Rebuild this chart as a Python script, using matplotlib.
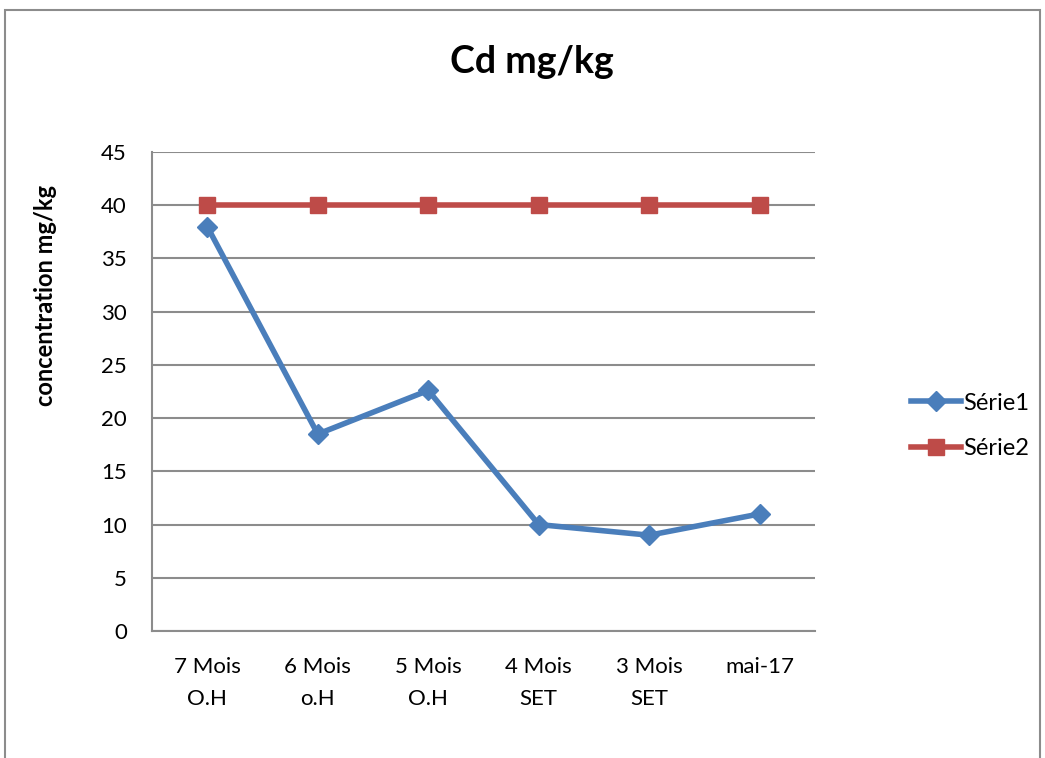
import matplotlib.pyplot as plt
from matplotlib.patches import Rectangle

# chart data
categories = ["7 Mois\nO.H", "6 Mois\no.H", "5 Mois\nO.H", "4 Mois\nSET", "3 Mois\nSET", "mai-17"]
serie1 = [38, 18.5, 22.6, 10, 9, 11]
serie2 = [40, 40, 40, 40, 40, 40]
yticks = [0, 5, 10, 15, 20, 25, 30, 35, 40, 45]

plt.rcParams['font.family'] = ['Lato', 'DejaVu Sans']

fig = plt.figure(figsize=(10.45, 7.58), dpi=100)
ax = fig.add_axes([152/1045, 1 - 631/758, (815 - 152)/1045, (631 - 152)/758])

x = list(range(len(categories)))
ax.plot(x, serie1, color='#4a7ebb', lw=4, marker='D', ms=10, label='Série1', zorder=3)
ax.plot(x, serie2, color='#be4b48', lw=4, marker='s', ms=12, label='Série2', zorder=3)

ax.set_xlim(-0.5, len(categories) - 0.5)
ax.set_ylim(0, 45)
ax.set_yticks(yticks)
ax.set_xticks(x)
ax.set_xticklabels(categories, fontsize=16, linespacing=1.7)
ax.tick_params(axis='y', labelsize=16, length=0, pad=18)
ax.tick_params(axis='x', length=0, pad=19)
ax.yaxis.grid(True, color='#8c8c8c', lw=1.5)
ax.set_axisbelow(True)
for s in ['top', 'right']:
    ax.spines[s].set_visible(False)
for s in ['left', 'bottom']:
    ax.spines[s].set_color('#8c8c8c')
    ax.spines[s].set_linewidth(1.5)

fig.text(532/1045, 1 - 62/758, "Cd mg/kg", fontsize=27, fontweight='bold', ha='center', va='center')
fig.text(46/1045, 1 - 295/758, "concentration mg/kg", fontsize=17, fontweight='bold',
         rotation=90, ha='center', va='center')

fig.legend(loc='center left', bbox_to_anchor=(890/1045, 1 - 426/758), frameon=False,
           fontsize=17, handlelength=2.1, handletextpad=0.1, labelspacing=1.05)

# outer chart border
fig.patches.append(Rectangle((5/1045, -0.1), (1040 - 5)/1045, 1.1 - 10/758,
                             transform=fig.transFigure, fill=False, ec='#8c8c8c', lw=1.5))

fig.savefig('out.png', dpi=100)
